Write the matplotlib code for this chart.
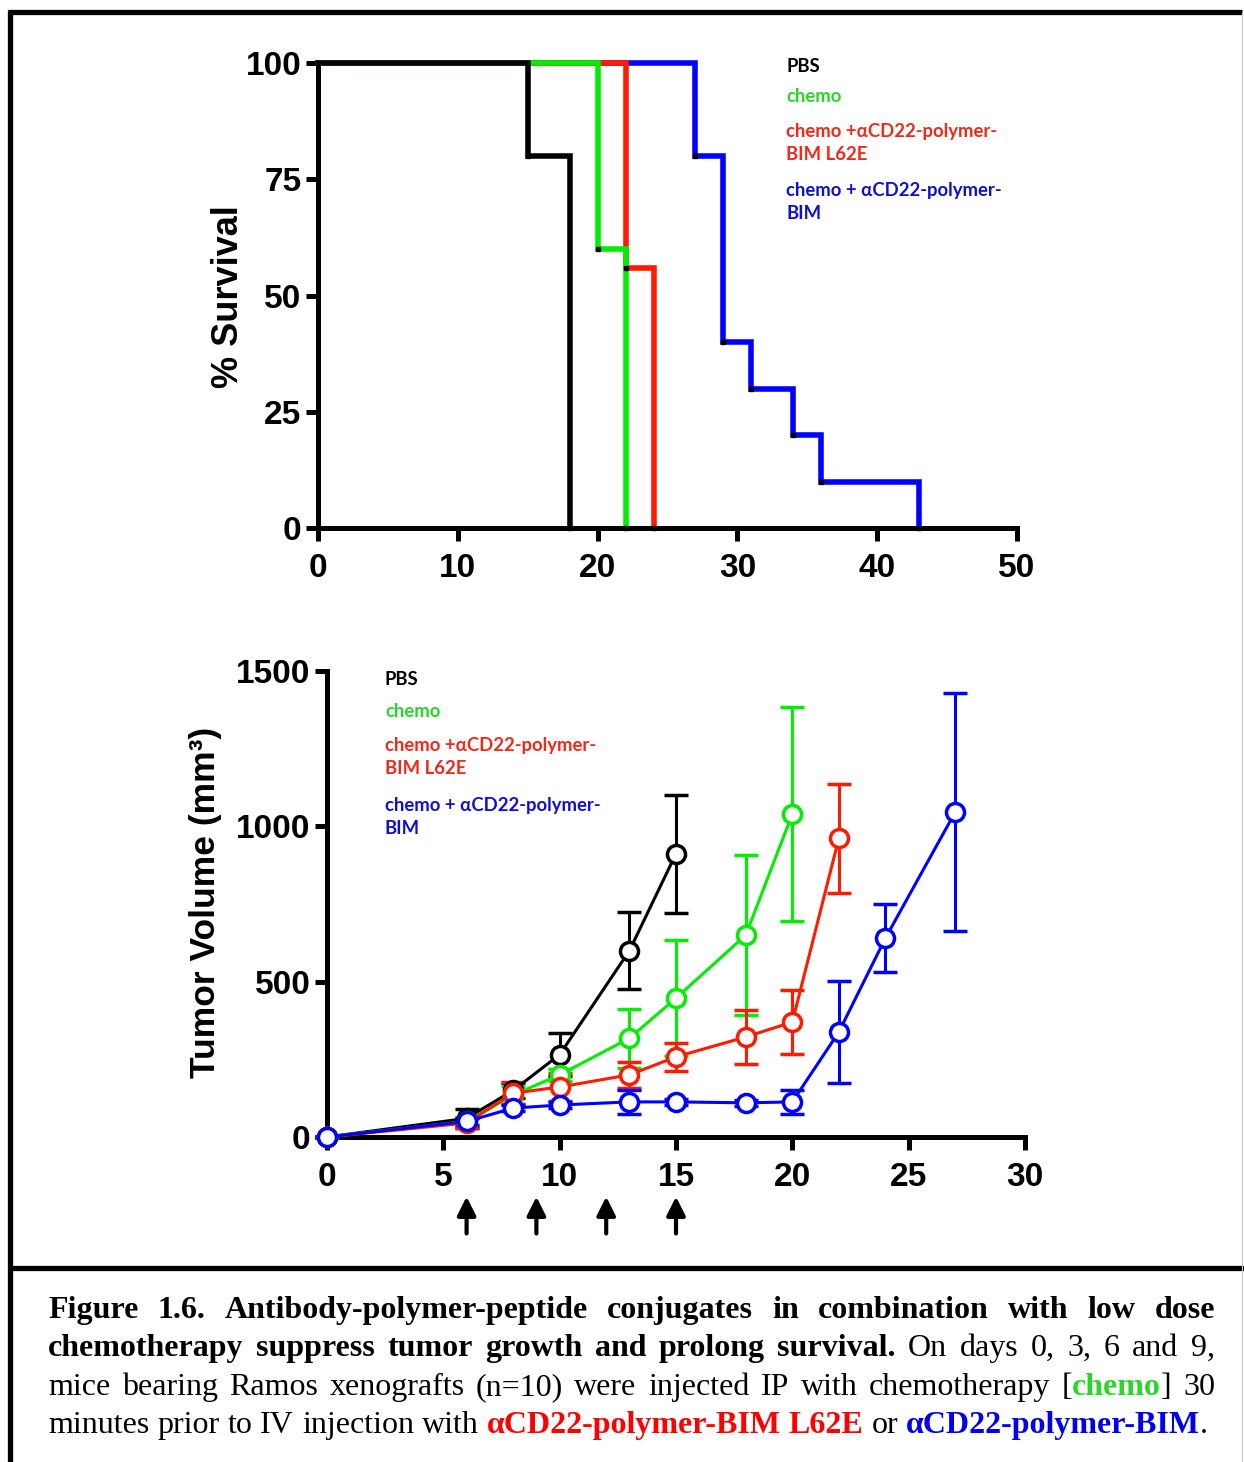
import matplotlib
matplotlib.use("Agg")
import matplotlib.pyplot as plt
from matplotlib.lines import Line2D

# ---- survival data (Kaplan-Meier steps) ----
pbs_t = [0, 15, 18]
pbs_s = [100, 80, 0]
chemo_t = [0, 20, 22]
chemo_s = [100, 60, 0]
l62e_t = [0, 22, 24]
l62e_s = [100, 56, 0]
bim_t = [0, 27, 29, 31, 34, 36, 43]
bim_s = [100, 80, 40, 30, 20, 10, 0]

# ---- tumor volume data (mean +/- error) ----
pbs_days = [0, 6, 8, 10, 13, 15]
pbs_vol = [0, 60, 150, 265, 600, 912]
pbs_err = [0, 30, 25, 70, 125, 190]

chemo_days = [0, 6, 8, 10, 13, 15, 18, 20]
chemo_vol = [0, 50, 135, 200, 318, 447, 650, 1040]
chemo_err = [0, 15, 30, 20, 95, 187, 258, 345]

l62e_days = [0, 6, 8, 10, 13, 15, 18, 20, 22]
l62e_vol = [0, 45, 141, 161, 200, 258, 322, 370, 962]
l62e_err = [0, 15, 36, 45, 41, 44, 88, 104, 175]

bim_days = [0, 6, 8, 10, 13, 15, 18, 20, 22, 24, 27]
bim_vol = [0, 50, 93, 103, 113, 113, 110, 113, 338, 640, 1046]
bim_err = [0, 10, 10, 10, 38, 10, 10, 38, 163, 110, 383]

injection_days = [6, 9, 12, 15]

legend_labels = ["PBS", "chemo", "chemo +\u03b1CD22-polymer-\nBIM L62E",
                 "chemo + \u03b1CD22-polymer-\nBIM"]

BLACK, GREEN, RED, BLUE = "#000000", "#00ee00", "#ff1a00", "#0000ff"
TXT_GREEN, TXT_RED, TXT_BLUE = "#2bd62b", "#ee2a1a", "#1010d0"

W, H = 1244, 1462
plt.rcParams["font.family"] = ["Liberation Sans", "DejaVu Sans"]
plt.rcParams["font.weight"] = "bold"

fig = plt.figure(figsize=(W / 100, H / 100), dpi=100)


def fx(px):
    return px / W


def fy(py):
    return 1 - py / H


def style_axes(ax):
    for s in ["top", "right"]:
        ax.spines[s].set_visible(False)
    for s in ["left", "bottom"]:
        ax.spines[s].set_linewidth(3.6)
    ax.tick_params(direction="out", length=9, width=3.6, labelsize=24)
    ax.tick_params(axis="y", pad=3)
    ax.tick_params(axis="x", pad=9)
    for lab in ax.get_xticklabels() + ax.get_yticklabels():
        lab.set_fontweight("bold")


# ---- top panel: survival ----
ax1 = fig.add_axes([fx(318), fy(528), fx(1017 - 318), (528 - 63) / H])
for t, s, c in [(bim_t, bim_s, BLUE), (l62e_t, l62e_s, RED),
                (chemo_t, chemo_s, GREEN), (pbs_t, pbs_s, BLACK)]:
    ax1.step(t, s, where="post", color=c, lw=4, clip_on=False, solid_joinstyle="miter")
    ax1.plot(t[1:], s[1:], "s", color="black", ms=3, clip_on=False, zorder=5)
ax1.set_xlim(0, 50)
ax1.set_ylim(0, 100)
ax1.set_xticks(range(0, 51, 10))
ax1.set_yticks([0, 25, 50, 75, 100])
style_axes(ax1)
fig.text(fx(228), fy(297), "% Survival", rotation=90, ha="center", va="center",
         fontsize=26, fontweight="bold")

# ---- bottom panel: tumor volume ----
ax2 = fig.add_axes([fx(327), fy(1137), fx(1025 - 327), (1137 - 671) / H])
for d, v, e, c in [(pbs_days, pbs_vol, pbs_err, BLACK),
                   (chemo_days, chemo_vol, chemo_err, GREEN),
                   (l62e_days, l62e_vol, l62e_err, RED),
                   (bim_days, bim_vol, bim_err, BLUE)]:
    ax2.errorbar(d, v, yerr=e, color=c, lw=2.2, elinewidth=2.2, capsize=8.5,
                 capthick=2.2, marker="o", ms=13, mfc="white", mec=c, mew=2.5,
                 clip_on=False, zorder=3)
ax2.set_xlim(0, 30)
ax2.set_ylim(0, 1500)
ax2.set_xticks(range(0, 31, 5))
ax2.set_yticks([0, 500, 1000, 1500])
style_axes(ax2)
fig.text(fx(205), fy(902), "Tumor Volume (mm\u00b3)", rotation=90, ha="center",
         va="center", fontsize=25.5, fontweight="bold")

for d in injection_days:
    ax2.annotate("", xy=(d, -0.128), xytext=(d, -0.207),
                 xycoords=("data", "axes fraction"), textcoords=("data", "axes fraction"),
                 arrowprops=dict(arrowstyle="-|>", lw=3, color="black", mutation_scale=28,
                                 shrinkA=0, shrinkB=0))

# ---- legends ----
leg_colors = [BLACK, TXT_GREEN, TXT_RED, TXT_BLUE]
for x0, ys in [(786, [66, 97, 143, 202]), (385, [680, 712, 757, 817])]:
    for lab, col, y in zip(legend_labels, leg_colors, ys):
        fig.text(fx(x0), fy(y), lab, color=col, fontsize=13.3, fontweight="bold",
                 family="Lato", ha="left", va="center", linespacing=1.45)

# ---- frame ----
for (xa, ya), (xb, yb), lw, col in [((10, 10), (10, H), 3.8, "black"),
                                     ((8, 12), (1242, 12), 3.8, "black"),
                                     ((10, 1268), (W, 1268), 3.8, "black"),
                                     ((1242, 12), (1242, H), 0.8, "#cccccc")]:
    fig.add_artist(Line2D([fx(xa), fx(xb)], [fy(ya), fy(yb)], color=col, lw=lw,
                          solid_capstyle="butt"))

# ---- caption (justified) ----
caption_lines = [
    [("Figure 1.6. Antibody-polymer-peptide conjugates in combination with low dose", "bold", "black")],
    [("chemotherapy suppress tumor growth and prolong survival.", "bold", "black"),
     (" On days 0, 3, 6 and 9,", "normal", "black")],
    [("mice bearing Ramos xenografts (n=10) were injected IP with chemotherapy [", "normal", "black"),
     ("chemo", "bold", TXT_GREEN), ("] 30", "normal", "black")],
    [("minutes prior to IV injection with ", "normal", "black"),
     ("\u03b1CD22-polymer-BIM L62E", "bold", "#ff0000"), (" or ", "normal", "black"),
     ("\u03b1CD22-polymer-BIM", "bold", "#0000ee"), (".", "normal", "black")],
]
caption_base = [1318, 1356, 1395, 1433]
renderer = fig.canvas.get_renderer()
SERIF = "Liberation Serif"


def tokens_of(runs):
    toks = [[]]
    for text, wt, col in runs:
        parts = text.split(" ")
        for i, p in enumerate(parts):
            if i > 0:
                toks.append([])
            if p:
                toks[-1].append((p, wt, col))
    return [t for t in toks if t]


def width_of(s, wt, fs):
    t = fig.text(0, 0, s, fontsize=fs, fontweight=wt, family=SERIF)
    w = t.get_window_extent(renderer).width
    t.remove()
    return w


def line_width(runs, fs):
    toks = tokens_of(runs)
    total = sum(width_of(p, wt, fs) for tok in toks for p, wt, _ in tok)
    sp = width_of("a a", "normal", fs) - width_of("aa", "normal", fs)
    return total + sp * (len(toks) - 1)


# fit font size so the last (natural) line spans its measured width
fs = 20 * (1210 - 48) / line_width(caption_lines[3], 20)

for i, (runs, yb) in enumerate(zip(caption_lines, caption_base)):
    toks = tokens_of(runs)
    widths = [[width_of(p, wt, fs) for p, wt, _ in tok] for tok in toks]
    total = sum(sum(w) for w in widths)
    if i < 3:
        gap = (1215 - 48 - total) / (len(toks) - 1)
    else:
        gap = width_of("a a", "normal", fs) - width_of("aa", "normal", fs)
    x = 48
    for tok, ws in zip(toks, widths):
        for (p, wt, col), w in zip(tok, ws):
            fig.text(fx(x), fy(yb), p, fontsize=fs, fontweight=wt, color=col,
                     family=SERIF, ha="left", va="baseline")
            x += w
        x += gap

fig.savefig("out.png", dpi=100)
